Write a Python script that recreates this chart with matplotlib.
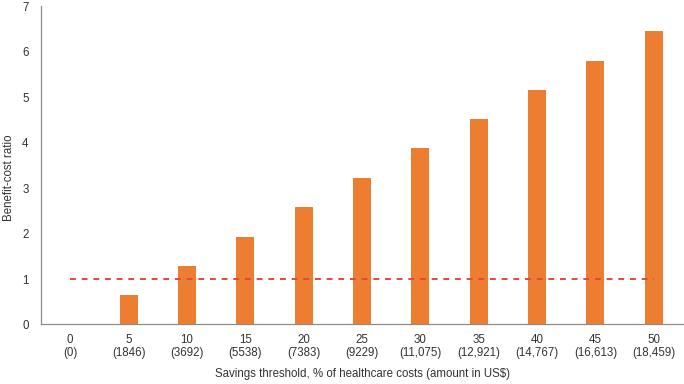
import matplotlib
matplotlib.use("Agg")
import matplotlib.pyplot as plt

plt.rcParams['font.family'] = ['Liberation Sans', 'DejaVu Sans']

pct = ["0", "5", "10", "15", "20", "25", "30", "35", "40", "45", "50"]
amounts = ["(0)", "(1846)", "(3692)", "(5538)", "(7383)", "(9229)", "(11,075)",
           "(12,921)", "(14,767)", "(16,613)", "(18,459)"]
ratios = [0, 0.64, 1.29, 1.93, 2.58, 3.22, 3.87, 4.51, 5.15, 5.80, 6.45]
threshold = 1

fs = 8.3
fig = plt.figure(figsize=(6.84, 3.84), dpi=100)
ax = fig.add_axes([0.0600, 0.155, 0.9385, 0.829])

x = list(range(len(pct)))
ax.bar(x, ratios, width=0.31, color="#ED7D31", zorder=2)
ax.plot([x[0], x[-1]], [threshold, threshold], linestyle=(0, (3, 3)),
        color="#E5463A", linewidth=1.4, zorder=3)

ax.set_xlim(-0.5, len(pct) - 0.5)
ax.set_ylim(0, 7)
ax.set_yticks(range(0, 8))
ax.set_xticks(x)
ax.set_xticklabels([f"{p}\n{a}" for p, a in zip(pct, amounts)], fontsize=fs,
                   color="#333333", linespacing=1.1)
ax.tick_params(axis='y', labelsize=fs, labelcolor="#333333", length=0, pad=9)
ax.tick_params(axis='x', length=0, pad=7)

for s in ["top", "right"]:
    ax.spines[s].set_visible(False)
for s in ["left", "bottom"]:
    ax.spines[s].set_color("#8C8C8C")
    ax.spines[s].set_linewidth(0.9)

fig.text(9 / 684, 1 - 178 / 384, "Benefit-cost ratio", rotation=90,
         ha="center", va="center", fontsize=fs, color="#333333")
fig.text(362 / 684, 1 - 374 / 384,
         "Savings threshold, % of healthcare costs (amount in US$)",
         ha="center", va="center", fontsize=fs, color="#333333")

fig.savefig("out.png", dpi=100)
